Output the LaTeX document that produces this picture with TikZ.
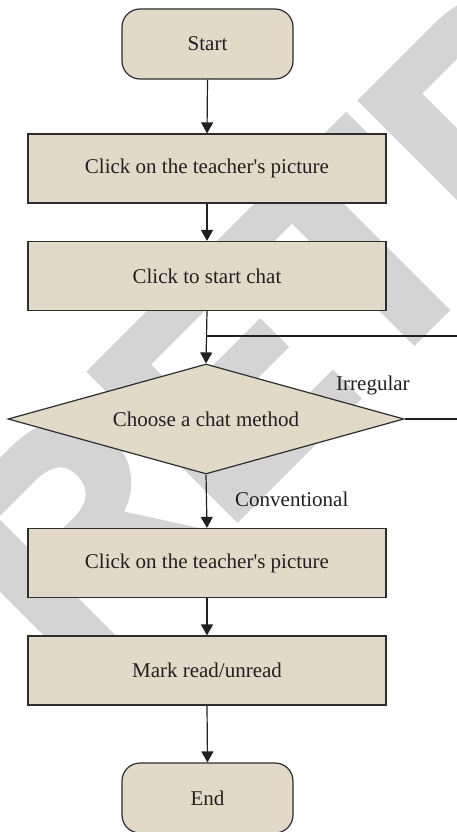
\documentclass[tikz,border=0pt]{standalone}
\usepackage{fontspec}
\setmainfont{Liberation Serif}
\newfontfamily\stampfont{Liberation Sans}[BoldFeatures={FakeBold=2.5}]
\usetikzlibrary{shapes.geometric,arrows.meta}
\definecolor{boxfill}{RGB}{227,217,201}
\definecolor{ink}{RGB}{35,31,32}
\definecolor{edge}{RGB}{45,45,45}
\definecolor{stamp}{RGB}{212,212,212}
\begin{document}
\begin{tikzpicture}[x=1pt,y=-1pt,
  font=\fontsize{21}{25}\selectfont,
  every node/.style={text=ink},
  procbox/.style={draw=edge,line width=1.2pt,fill=boxfill,rectangle,
    minimum width=358pt,minimum height=69pt,inner sep=0pt},
  termbox/.style={draw=edge,line width=1.2pt,fill=boxfill,rectangle,
    rounded corners=18pt,minimum width=171pt,minimum height=70pt,inner sep=0pt},
  choice/.style={draw=edge,line width=1.2pt,fill=boxfill,diamond,
    aspect=3.6,minimum width=396pt,minimum height=110pt,inner sep=0pt},
  flow/.style={draw=ink,line width=1.2pt,-{Triangle[width=12pt,length=11pt]}},
  link/.style={draw=ink,line width=1.2pt}]
\useasboundingbox (0,0) rectangle (457,832);
\fill[white] (0,0) rectangle (457,832);

% faint diagonal stamp behind the chart
\node[text=stamp,rotate=45,anchor=base west,inner sep=0pt,
  font=\stampfont\bfseries\fontsize{300}{300}\selectfont] (stamp) at (70,685) {RETRACTED};

% chart
\node[termbox] (start) at (207.5,44) {Start};
\node[procbox] (pic1) at (207,168.5) {Click on the teacher\textquotesingle s picture};
\node[procbox] (chat) at (207,276) {Click to start chat};
\node[choice] (method) at (206,419) {Choose a chat method};
\node[procbox] (pic2) at (207,563) {Click on the teacher\textquotesingle s picture};
\node[procbox] (mark) at (207,670.5) {Mark read/unread};
\node[termbox] (end) at (207.5,798) {End};

\coordinate (loopin) at (457,336);
\coordinate (loopout) at (457,419);
\coordinate (join) at (207,336);

\draw[flow] (start.south) -- (pic1.north);
\draw[flow] (pic1.south) -- (chat.north);
\draw[flow] (chat.south) -- (method.north);
\draw[link] (loopin) -- (join);
\draw[link] (method.east) -- (loopout);
\draw[flow] (method.south) -- (pic2.north);
\draw[flow] (pic2.south) -- (mark.north);
\draw[flow] (mark.south) -- (end.north);

\node[anchor=base west,inner sep=0pt] (irr) at (336,390) {Irregular};
\node[anchor=base west,inner sep=0pt] (conv) at (235,506) {Conventional};
\end{tikzpicture}
\end{document}
